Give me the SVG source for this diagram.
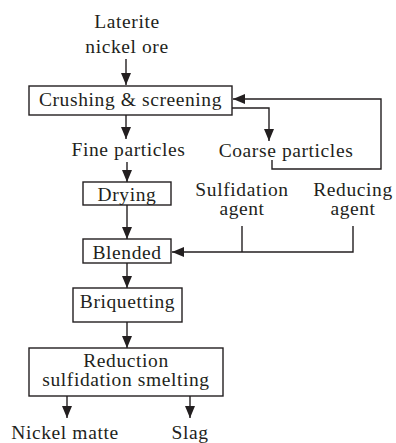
<svg xmlns="http://www.w3.org/2000/svg" width="396" height="443" viewBox="0 0 396 443" font-family="'Liberation Serif','Times New Roman','DejaVu Serif',serif">
<style>
text{font-family:'Liberation Serif','Times New Roman','DejaVu Serif',serif;font-size:19.5px;letter-spacing:0.6px;fill:#231f20;text-anchor:middle}
.box{fill:#fff;stroke:#231f20;stroke-width:1.4}
.c{fill:none;stroke:#231f20;stroke-width:1.4}
.a{marker-end:url(#ah)}
</style>
<defs>
<marker id="ah" markerUnits="userSpaceOnUse" viewBox="0 0 12 10" refX="12" refY="5" markerWidth="12" markerHeight="10" orient="auto">
<path d="M0,0 L12,5 L0,10 z" fill="#231f20"/>
</marker>
</defs>
<rect width="396" height="443" fill="#fff"/>
<g id="connectors">
<line class="c a" x1="126" y1="59" x2="126" y2="85"/>
<line class="c a" x1="126" y1="115" x2="126" y2="139"/>
<polyline class="c a" points="232,108 269,108 269,141"/>
<polyline class="c a" points="272,160 272,169 381,169 381,99 233,99"/>
<line class="c a" x1="127" y1="162" x2="127" y2="182"/>
<line class="c a" x1="127" y1="205" x2="127" y2="239"/>
<line class="c" x1="242" y1="226" x2="242" y2="252"/>
<polyline class="c a" points="353,226 353,252 172,252"/>
<line class="c a" x1="127" y1="263" x2="127" y2="288"/>
<line class="c a" x1="127" y1="322" x2="127" y2="348"/>
<line class="c a" x1="67" y1="396" x2="67" y2="418"/>
<line class="c a" x1="190" y1="396" x2="190" y2="418"/>
</g>
<g id="ore"><text x="127" y="28">Laterite</text><text x="127" y="53">nickel ore</text></g>
<g id="crushing"><rect class="box" x="29" y="86" width="203" height="29"/><text x="130.5" y="106">Crushing &amp; screening</text></g>
<g id="fine"><text x="128.5" y="156">Fine particles</text></g>
<g id="coarse"><text x="286" y="157">Coarse particles</text></g>
<g id="drying"><rect class="box" x="83" y="182" width="88" height="23"/><text x="127" y="201">Drying</text></g>
<g id="sulfidation"><text x="242" y="196">Sulfidation</text><text x="242" y="215">agent</text></g>
<g id="reducing"><text x="353" y="196">Reducing</text><text x="353" y="215">agent</text></g>
<g id="blended"><rect class="box" x="83" y="239" width="88" height="24"/><text x="127" y="259">Blended</text></g>
<g id="briquetting"><rect class="box" x="73" y="288" width="109" height="34"/><text x="127.5" y="308">Briquetting</text></g>
<g id="smelting"><rect class="box" x="29" y="348" width="194" height="48"/><text x="126" y="367">Reduction</text><text x="126" y="386">sulfidation smelting</text></g>
<g id="matte"><text x="65" y="439">Nickel matte</text></g>
<g id="slag"><text x="190" y="439">Slag</text></g>
</svg>
